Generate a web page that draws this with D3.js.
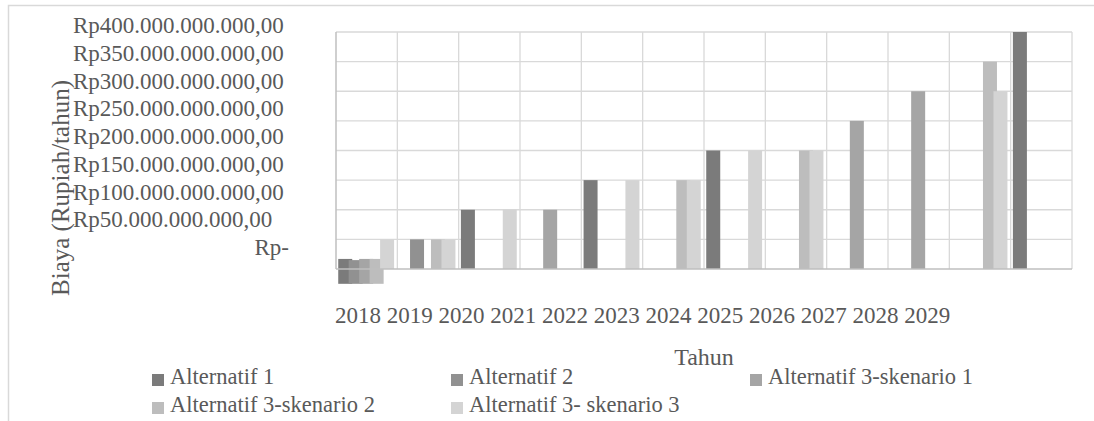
<!DOCTYPE html>
<html>
<head>
<meta charset="utf-8">
<script src="https://cdn.jsdelivr.net/npm/d3@7"></script>
<style>
  body { margin: 0; background: #fff; }
  text { font-family: "Liberation Serif", "Times New Roman", serif; fill: #595959; }
</style>
</head>
<body>
<script>
'use strict'

// values in billion rupiah per year
var years = ["2018", "2019", "2020", "2021", "2022", "2023", "2024", "2025", "2026", "2027", "2028", "2029"]
var seriesNames = ["Alternatif 1", "Alternatif 2", "Alternatif 3-skenario 1", "Alternatif 3-skenario 2", "Alternatif 3- skenario 3"]
var alt1 = [17, 0, 100, 0, 150, 0, 200, 0, 0, 0, 0, 400]
var alt2 = [15, 50, 0, 0, 0, 0, 0, 0, 0, 0, 0, 0]
var alt3s1 = [17, 0, 0, 100, 0, 0, 0, 0, 250, 300, 0, 0]
var alt3s2 = [17, 50, 0, 0, 0, 150, 0, 200, 0, 0, 350, 0]
var alt3s3 = [50, 50, 100, 0, 150, 150, 200, 200, 0, 0, 300, 0]
// the 2018 bars hang below zero
var low2018 = [-25, -25, -25, -25, 0]
var yTicks = [0, 50, 100, 150, 200, 250, 300, 350, 400]
var colors = ["#7b7b7b", "#919191", "#a5a5a5", "#bdbdbd", "#d4d4d4"]

var allSeries = [alt1, alt2, alt3s1, alt3s2, alt3s3]

var width = 1094
var height = 421
var plot = {left: 336, right: 1072, top: 32, bottom: 269}
var barW = 14

var svg = d3.select("body").append("svg")
  .attr("width", width)
  .attr("height", height)

// outer frame
svg.append("path")
  .attr("d", "M8.5," + (height + 2) + "V5.5H" + (width + 2))
  .attr("fill", "none")
  .attr("stroke", "#d9d9d9")
  .attr("stroke-width", 1.5)

var x = d3.scaleBand().domain(years).range([plot.left, plot.right])
var xSub = d3.scaleBand().domain(d3.range(seriesNames.length)).range([4, x.bandwidth() - 5])
var y = d3.scaleLinear().domain([0, 400]).range([plot.bottom, plot.top])
// tick labels sit on their own spacing in the original
var yLabel = d3.scaleLinear().domain([0, 400]).range([255, 33])

var idr = d3.formatLocale({decimal: ",", thousands: ".", grouping: [3], currency: ["Rp", ""]})
var fmt = idr.format("$,.2f")

// grid
var grid = svg.append("g")
grid.selectAll(".h")
  .data(yTicks.slice(1))
  .enter().append("line")
  .attr("x1", plot.left).attr("x2", plot.right)
  .attr("y1", d => y(d)).attr("y2", d => y(d))
  .attr("stroke", "#d9d9d9").attr("stroke-width", 1.3)
grid.selectAll(".v")
  .data(years.slice(1).concat(["end"]))
  .enter().append("line")
  .attr("x1", d => d == "end" ? plot.right : x(d))
  .attr("x2", d => d == "end" ? plot.right : x(d))
  .attr("y1", plot.top).attr("y2", plot.bottom)
  .attr("stroke", "#d9d9d9").attr("stroke-width", 1.3)

// bars
var bars = []
allSeries.forEach(function(vals, s) {
  vals.forEach(function(v, i) {
    if (v == 0) return
    bars.push({s: s, year: years[i], lo: i == 0 ? low2018[s] : 0, hi: v})
  })
})
svg.append("g").selectAll("rect")
  .data(bars)
  .enter().append("rect")
  .attr("x", d => x(d.year) + xSub(d.s) + xSub.bandwidth() / 2 - barW / 2)
  .attr("width", barW)
  .attr("y", d => y(Math.min(d.hi, 400)))
  .attr("height", d => y(d.lo) - y(Math.min(d.hi, 400)))
  .attr("fill", d => colors[d.s])

// axis lines
svg.append("line")
  .attr("x1", plot.left).attr("x2", plot.left)
  .attr("y1", plot.top).attr("y2", plot.bottom)
  .attr("stroke", "#bfbfbf").attr("stroke-width", 1.5)
svg.append("line")
  .attr("x1", plot.left).attr("x2", plot.right)
  .attr("y1", plot.bottom).attr("y2", plot.bottom)
  .attr("stroke", "#bfbfbf").attr("stroke-width", 1.5)

// y tick labels
svg.append("g").selectAll("text")
  .data(yTicks)
  .enter().append("text")
  .attr("x", d => d == 0 ? 289 : 73)
  .attr("y", d => yLabel(d))
  .attr("text-anchor", d => d == 0 ? "end" : "start")
  .attr("font-size", 23)
  .text(d => d == 0 ? "Rp-" : fmt(d * 1e9))

// y title
svg.append("text")
  .attr("transform", "translate(69,188) rotate(-90)")
  .attr("text-anchor", "middle")
  .attr("font-size", 25)
  .text("Biaya (Rupiah/tahun)")

// x labels
svg.append("text")
  .attr("x", 335)
  .attr("y", 323)
  .attr("font-size", 23)
  .attr("xml:space", "preserve")
  .text(years.join(" "))

svg.append("text")
  .attr("x", (plot.left + plot.right) / 2)
  .attr("y", 365)
  .attr("text-anchor", "middle")
  .attr("font-size", 24)
  .text("Tahun")

// legend
var legendPos = [[152, 374], [451, 374], [750, 374], [152, 402], [451, 402]]
var legend = svg.append("g").selectAll("g")
  .data(seriesNames)
  .enter().append("g")
  .attr("transform", (d, i) => "translate(" + legendPos[i][0] + "," + legendPos[i][1] + ")")
legend.append("rect")
  .attr("width", 12).attr("height", 12)
  .attr("fill", (d, i) => colors[i])
legend.append("text")
  .attr("x", 18).attr("y", 10)
  .attr("font-size", 22.5)
  .text(d => d)
</script>
</body>
</html>
